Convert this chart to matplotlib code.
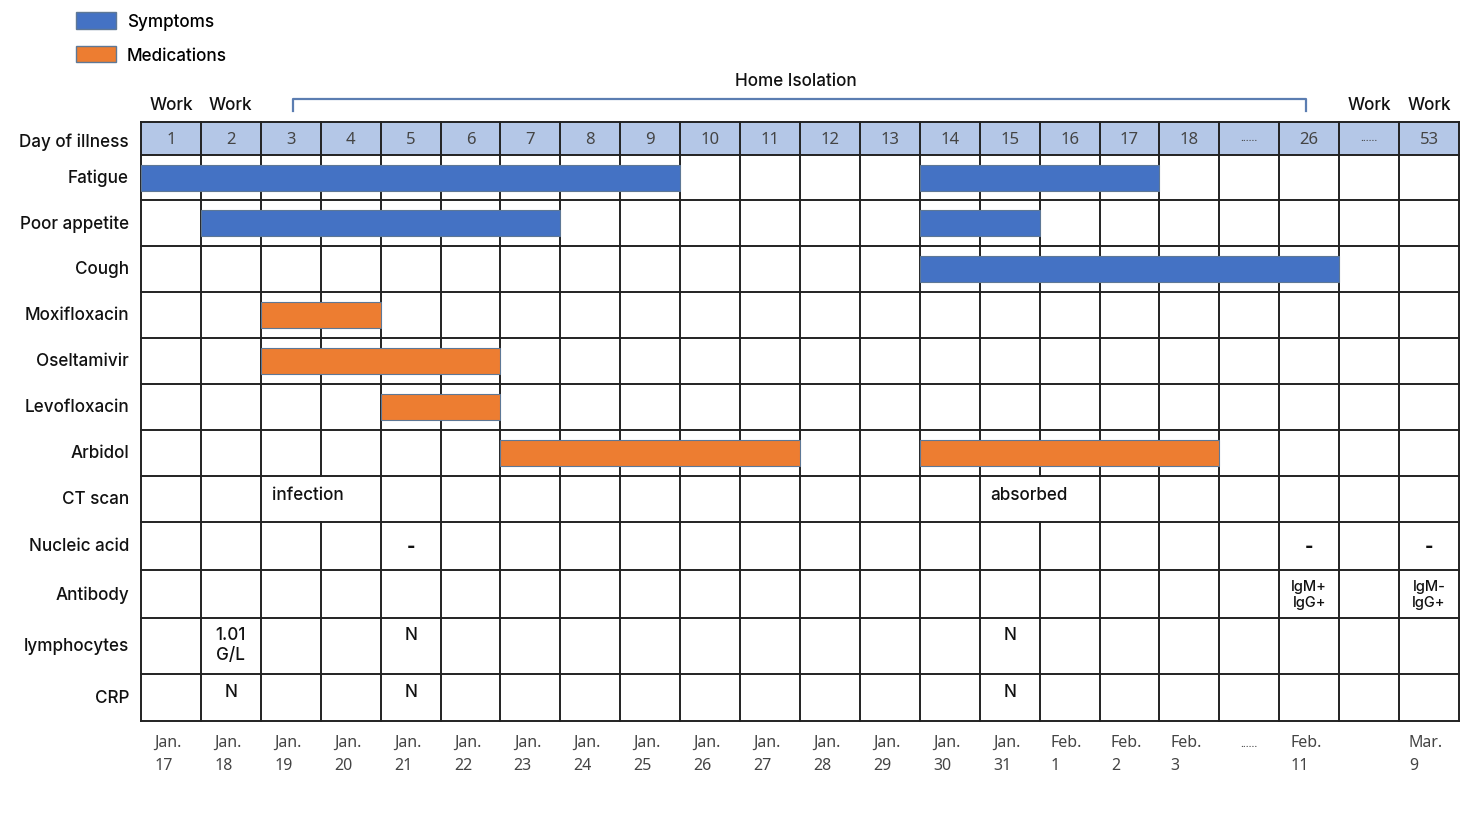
import matplotlib
matplotlib.use("Agg")
import matplotlib.pyplot as plt
from matplotlib.patches import Patch

plt.rcParams['font.family'] = ['Inter', 'DejaVu Sans']

# ---------------- data ----------------
columns = ['1', '2', '3', '4', '5', '6', '7', '8', '9', '10', '11', '12', '13',
           '14', '15', '16', '17', '18', '......', '26', '.......', '53']
dates = ['Jan.\n17', 'Jan.\n18', 'Jan.\n19', 'Jan.\n20', 'Jan.\n21', 'Jan.\n22',
         'Jan.\n23', 'Jan.\n24', 'Jan.\n25', 'Jan.\n26', 'Jan.\n27', 'Jan.\n28',
         'Jan.\n29', 'Jan.\n30', 'Jan.\n31', 'Feb.\n1', 'Feb.\n2', 'Feb.\n3',
         '......', 'Feb.\n11', '', 'Mar.\n9']
rows = ['Day of illness', 'Fatigue', 'Poor appetite', 'Cough', 'Moxifloxacin',
        'Oseltamivir', 'Levofloxacin', 'Arbidol', 'CT scan', 'Nucleic acid',
        'Antibody', 'lymphocytes', 'CRP']

# bars: (row, first day column, last day column)
symptom_spans = [('Fatigue', '1', '9'), ('Fatigue', '14', '17'),
                 ('Poor appetite', '2', '7'), ('Poor appetite', '14', '15'),
                 ('Cough', '14', '26')]
medication_spans = [('Moxifloxacin', '3', '4'), ('Oseltamivir', '3', '6'),
                    ('Levofloxacin', '5', '6'), ('Arbidol', '7', '11'),
                    ('Arbidol', '14', '18')]

# CT scan results occupy merged cells (first column, last column, text)
ct_scan = [('3', '4', 'infection'), ('15', '16', 'absorbed')]
nucleic_acid = [('5', '-'), ('26', '-'), ('53', '-')]
antibody = [('26', 'IgM+\nIgG+'), ('53', 'IgM-\nIgG+')]
lymphocytes = [('2', '1.01\nG/L'), ('5', 'N'), ('15', 'N')]
crp = [('2', 'N'), ('5', 'N'), ('15', 'N')]

work_days = ['1', '2', '.......', '53']
isolation = ('3', '26')

# ---------------- layout (pixels) ----------------
W, H = 1472, 828
X0, X1 = 141, 1459
CW = (X1 - X0) / len(columns)
row_heights = [33, 45, 46, 46, 46, 46, 46, 46, 46, 48, 48, 56, 47]
Y0 = 123
edges = [Y0]
for h in row_heights:
    edges.append(edges[-1] + h)

BLUE = '#4472C4'
ORANGE = '#ED7D31'
HEADER = '#B4C7E7'
LINE = '#222222'
TXT = '#111111'
LBL = dict(fontsize=12.3, color=TXT, fontweight=500)
LIGHT = dict(family=['Noto Sans', 'DejaVu Sans'], color='#444444')

fig = plt.figure(figsize=(W / 100, H / 100), dpi=100)
ax = fig.add_axes([0, 0, 1, 1])
ax.set_xlim(0, W)
ax.set_ylim(H, 0)
ax.axis('off')


def cx(label):
    return X0 + (columns.index(label) + 0.5) * CW


def cleft(label):
    return X0 + columns.index(label) * CW


def rtop(name):
    return edges[rows.index(name)]


def rc(name):
    i = rows.index(name)
    return (edges[i] + edges[i + 1]) / 2


# header fill
ax.barh(rc('Day of illness'), X1 - X0, left=X0, height=row_heights[0],
        color=HEADER, zorder=1)

# merged-cell internal boundaries (row index, boundary index) to skip
skip = set()
ct_row = rows.index('CT scan')
for a, b, _ in ct_scan:
    for j in range(columns.index(a) + 1, columns.index(b) + 1):
        skip.add((ct_row, j))

# grid
for j in range(len(columns) + 1):
    for i in range(len(rows)):
        if (i, j) in skip:
            continue
        ax.plot([X0 + j * CW] * 2, [edges[i], edges[i + 1]], color=LINE, lw=1.4,
                zorder=2, solid_capstyle='projecting')
for e in edges:
    ax.plot([X0, X1], [e, e], color=LINE, lw=1.4, zorder=2, solid_capstyle='projecting')

# bars
for spans, col in ((symptom_spans, BLUE), (medication_spans, ORANGE)):
    for r, a, b in spans:
        left = cleft(a)
        width = cleft(b) + CW - left
        ax.barh(rc(r), width, left=left, height=26, color=col,
                edgecolor='#5E7896', linewidth=0.8, zorder=3)

# header numbers
for c in columns:
    if c.startswith('.'):
        ax.text(cx(c), rc('Day of illness') - 1, '......', ha='center', va='center',
                fontsize=8, zorder=4, **LIGHT)
    else:
        ax.text(cx(c), rc('Day of illness') + 1, c, ha='center', va='center',
                fontsize=12, zorder=4, **LIGHT)

# row labels
for r in rows:
    ax.text(129, rc(r) + (3 if r == 'Day of illness' else 0), r, ha='right',
            va='center', **LBL)

# cell texts
for a, b, t in ct_scan:
    ax.text(cleft(a) + 11, rc('CT scan') - 4, t, ha='left', va='center', **LBL)
for c, t in nucleic_acid:
    ax.text(cx(c), rc('Nucleic acid') + 1, t, ha='center', va='center',
            fontsize=13, color=TXT, fontweight=800)
for c, t in antibody:
    ax.text(cx(c), rc('Antibody'), t, ha='center', va='center',
            fontsize=10.5, color=TXT, fontweight=500, linespacing=1.15)
for c, t in lymphocytes:
    ax.text(cx(c), rtop('lymphocytes') + 8, t, ha='center', va='top',
            linespacing=1.25, **LBL)
for c, t in crp:
    ax.text(cx(c), rc('CRP') - 6, t, ha='center', va='center', **LBL)

# dates
for c, d in zip(columns, dates):
    if not d:
        continue
    if d.startswith('.'):
        ax.text(cx(c), 745, d, ha='center', va='center', fontsize=8, **LIGHT)
    else:
        ax.text(cx(c) - 3, 735, d, ha='center', va='top', fontsize=11.5,
                multialignment='left', linespacing=1.55, **LIGHT)

# work labels
for c in work_days:
    ax.text(cx(c), 105, 'Work', ha='center', va='center', **LBL)

# home isolation bracket
xa, xb = cx(isolation[0]) + 2, cx(isolation[1]) - 3
ax.plot([xa, xa, xb, xb], [112, 100, 100, 112], color='#5B7DB1', lw=1.6)
ax.text((xa + xb) / 2 - 4, 82, 'Home Isolation', ha='center', va='center', **LBL)

# legend
handles = [Patch(facecolor=BLUE, edgecolor='#5E7896', label='Symptoms'),
           Patch(facecolor=ORANGE, edgecolor='#5E7896', label='Medications')]
fig.legend(handles=handles, loc='upper left', bbox_to_anchor=(61 / W, 1 + 2 / H),
           frameon=False, prop=dict(family='Inter', size=12.3, weight=500),
           handlelength=2.3, handleheight=1.1, labelspacing=0.9, handletextpad=0.65)

fig.savefig('out.png', dpi=100)
